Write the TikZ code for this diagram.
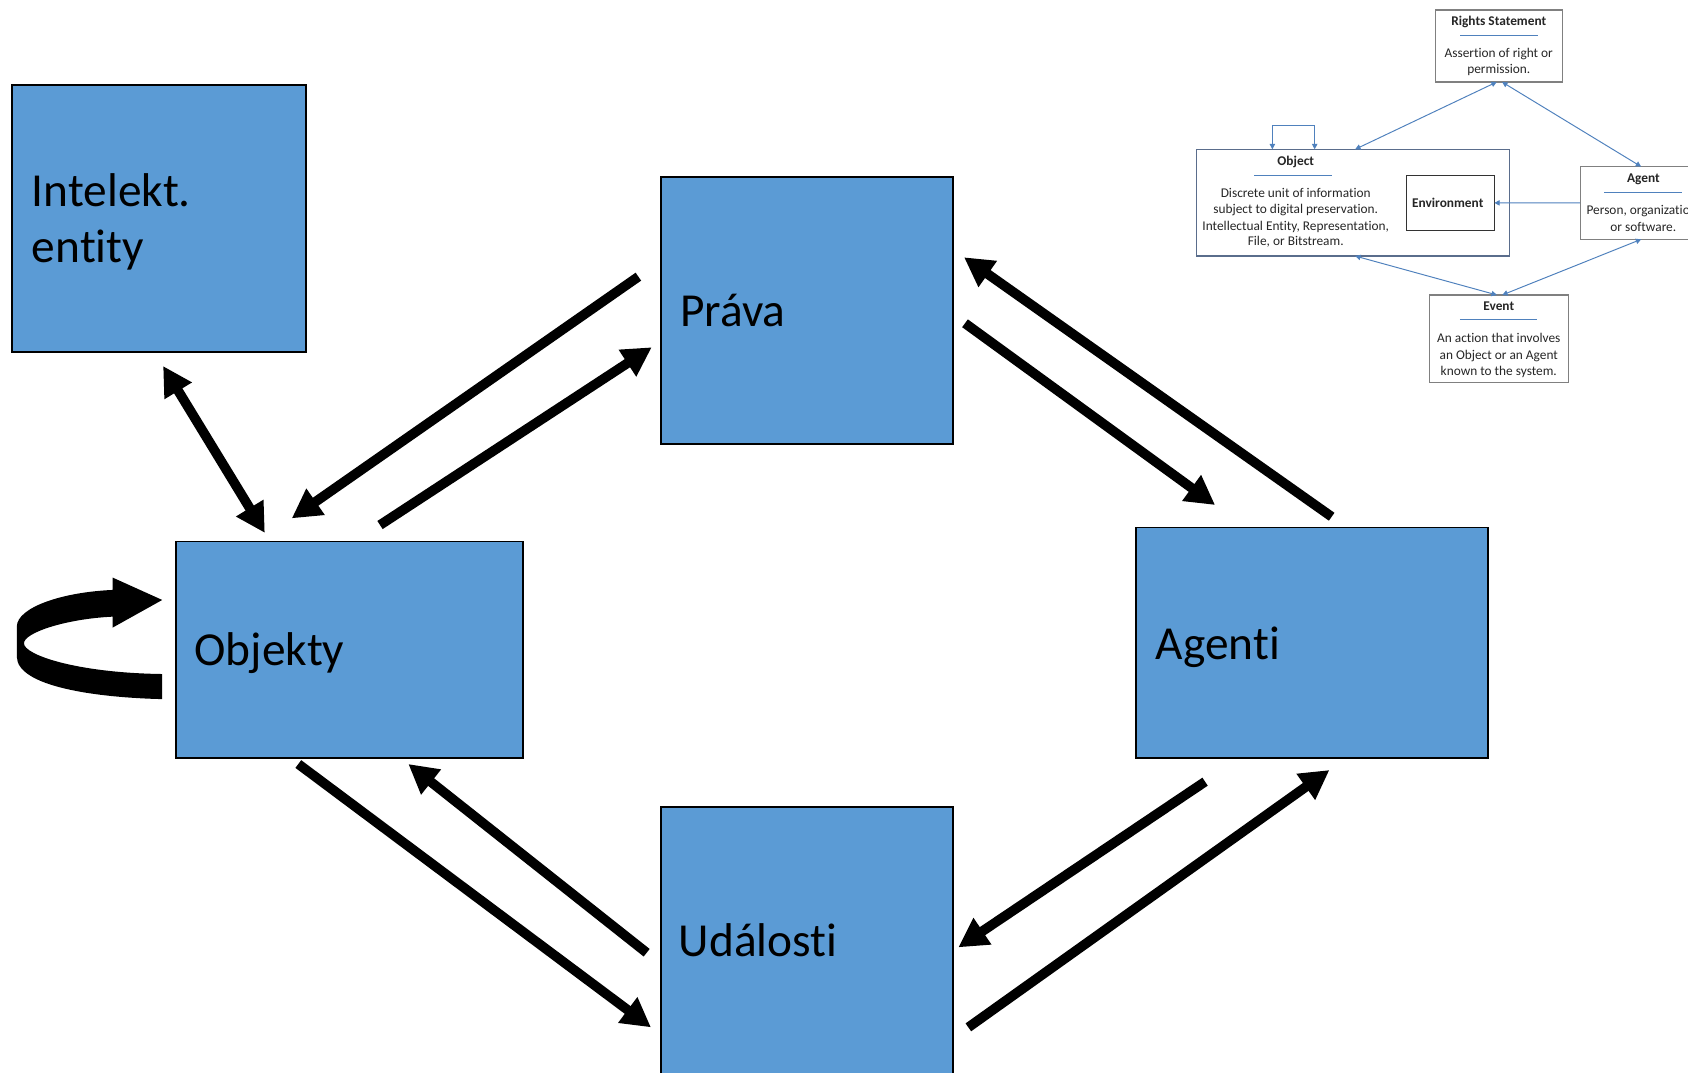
\documentclass[tikz,border=0pt]{standalone}
\usepackage{fontspec}
\setmainfont{Carlito}[Ligatures={NoCommon,NoContextual}]
\usetikzlibrary{arrows.meta}
\definecolor{boxblue}{HTML}{5B9BD5}
\definecolor{premisblue}{HTML}{4F81BD}
\definecolor{premisgray}{HTML}{808080}
\definecolor{objborder}{HTML}{5A6D8C}
\definecolor{premistext}{HTML}{262626}
\begin{document}
\begin{tikzpicture}[x=1pt,y=-1pt,
  bigbox/.style={draw=black, line width=1.8pt, fill=boxblue, inner sep=0pt, outer sep=0pt, anchor=north west},
  biglabel/.style={anchor=base west, inner sep=0pt, font=\fontsize{44pt}{52pt}\selectfont},
  fatarrow/.style={line width=9pt, -{Triangle[length=27pt,width=28pt]}},
  fatboth/.style={line width=9pt, {Triangle[length=27pt,width=28pt]}-{Triangle[length=27pt,width=28pt]}},
  pbox/.style={draw=premisgray, line width=1pt, fill=white, inner sep=0pt, outer sep=0pt, anchor=north west},
  ptitle/.style={anchor=base, inner sep=0pt, text=premistext, font=\fontsize{12.4pt}{15pt}\selectfont\bfseries},
  ptext/.style={anchor=base, inner sep=0pt, text=premistext, font=\fontsize{12.4pt}{15pt}\selectfont},
  pline/.style={draw=premisblue, line width=0.8pt},
  parrow/.style={draw=premisblue, line width=0.9pt, {Triangle[length=5pt,width=5pt]}-{Triangle[length=5pt,width=5pt]}},
  parrowone/.style={draw=premisblue, line width=0.9pt, -{Triangle[length=5pt,width=5pt]}}
]
\useasboundingbox (0,0) rectangle (1568,996);
\fill[white] (0,0) rectangle (1568,996);

% ---------- main boxes ----------
\node[bigbox, minimum width=272.5pt, minimum height=247.7pt] (ie) at (11.5,79) {};
\node[bigbox, minimum width=271.9pt, minimum height=247.7pt] (prava) at (613.7,164.7) {};
\node[bigbox, minimum width=322.7pt, minimum height=201pt] (obj) at (163.5,503) {};
\node[bigbox, minimum width=327pt, minimum height=214.4pt] (agenti) at (1055,490) {};
\node[bigbox, minimum width=271.9pt, minimum height=252pt] (udal) at (613.7,749.3) {};

\node[biglabel] (ieA) at (29.5,192) {Intelekt.};
\node[biglabel] (ieB) at (29.5,244) {entity};
\node[biglabel] (pravaL) at (631.5,303.5) {Práva};
\node[biglabel] (objL) at (180.5,618.4) {Objekty};
\node[biglabel] (agentiL) at (1073.5,612.5) {Agenti};
\node[biglabel] (udalL) at (630.5,888.7) {Události};

% ---------- arrow end points ----------
\coordinate (ieEnd) at (151.5,340);
\coordinate (objTop) at (246,495);
\coordinate (p2oS) at (593,257);
\coordinate (p2oE) at (271,481.5);
\coordinate (o2pS) at (353,487.7);
\coordinate (o2pE) at (605.4,322.6);
\coordinate (a2pS) at (1237,480);
\coordinate (a2pE) at (895.5,239);
\coordinate (p2aS) at (896.4,300.3);
\coordinate (p2aE) at (1128.7,469.1);
\coordinate (o2uS) at (277.1,709.7);
\coordinate (o2uE) at (604.7,954.3);
\coordinate (u2oS) at (600.7,885);
\coordinate (u2oE) at (379.3,709.7);
\coordinate (a2uS) at (1119.4,726.1);
\coordinate (a2uE) at (890.2,880);
\coordinate (u2aS) at (899.5,954.3);
\coordinate (u2aE) at (1234.9,715.3);

\draw[fatboth] (ieEnd) -- (objTop);
\draw[fatarrow] (p2oS) -- (p2oE);
\draw[fatarrow] (o2pS) -- (o2pE);
\draw[fatarrow] (a2pS) -- (a2pE);
\draw[fatarrow] (p2aS) -- (p2aE);
\draw[fatarrow] (o2uS) -- (o2uE);
\draw[fatarrow] (u2oS) -- (u2oE);
\draw[fatarrow] (a2uS) -- (a2uE);
\draw[fatarrow] (u2aS) -- (u2aE);

% ---------- curved self arrow on Objekty ----------
\fill[black] (150.7,649.4) .. controls (90,648) and (16,638) .. (15.6,610)
  -- (15.6,582) .. controls (16,564) and (58,550) .. (104.6,548)
  -- (104.6,536.5) -- (150.7,557.3) -- (104.6,583) -- (104.6,572.8)
  .. controls (60,575) and (22,588) .. (22.3,597.6)
  .. controls (22,608) and (70,625) .. (150.7,626.1) -- cycle;

% ---------- PREMIS inset ----------
\node[pbox, minimum width=118pt, minimum height=66.9pt] (rights) at (1333.3,9.3) {};
\node[pbox, draw=objborder, line width=1.3pt, minimum width=290.4pt, minimum height=99.1pt] (object) at (1111.6,138.7) {};
\node[pbox, draw=black!80, minimum width=81.7pt, minimum height=50.5pt] (env) at (1306.4,163.2) {};
\node[pbox, minimum width=117.6pt, minimum height=67.5pt] (agent) at (1467.7,154.8) {};
\node[pbox, minimum width=129.5pt, minimum height=81.1pt] (event) at (1327.7,274) {};

\node[ptitle] (rightsT) at (1392.2,23.5) {Rights Statement};
\draw[pline] (1356.2,32.8) -- (1428.4,32.8);
\node[ptext] (rights1) at (1392.2,53.5) {Assertion of right or};
\node[ptext] (rights2) at (1392.2,68.4) {permission.};

\node[ptitle] (objectT) at (1203.6,153.6) {Object};
\draw[pline] (1164.9,162.6) -- (1237.4,162.6);
\node[ptext] (object1) at (1203.6,183.5) {Discrete unit of information};
\node[ptext] (object2) at (1203.6,198.5) {subject to digital preservation.};
\node[ptext] (object3) at (1203.6,213.7) {Intellectual Entity, Representation,};
\node[ptext] (object4) at (1203.6,228.5) {File, or Bitstream.};

\node[ptitle] (envT) at (1344.8,192.3) {Environment};

\node[ptitle] (agentT) at (1526.5,169.7) {Agent};
\draw[pline] (1490.3,178.7) -- (1562.8,178.7);
\node[ptext] (agent1) at (1526.5,199.7) {Person, organization,};
\node[ptext] (agent2) at (1526.5,214.6) {or software.};

\node[ptitle] (eventT) at (1392.2,288.3) {Event};
\draw[pline] (1356,296.7) -- (1428,296.7);
\node[ptext] (event1) at (1392.2,318.6) {An action that involves};
\node[ptext] (event2) at (1392.2,333.8) {an Object or an Agent};
\node[ptext] (event3) at (1392.2,348.6) {known to the system.};

% inset connectors
\draw[parrow] ([xshift=-2pt]rights.south) -- ([xshift=2pt]object.north);
\draw[parrow] ([xshift=3pt]rights.south) -- ([xshift=-2pt]agent.north);
\draw[parrowone] (agent.west) -- (env.east);
\draw[parrow] ([xshift=2pt]object.south) -- ([xshift=-2pt]event.north);
\draw[parrow] ([xshift=-2pt]agent.south) -- ([xshift=3pt]event.north);
\coordinate (loopA) at (1181.9,116.1);
\coordinate (loopB) at (1221.2,116.1);
\draw[parrow] (object.north west -| loopA) -- (loopA) -- (loopB) -- (object.north west -| loopB);

\end{tikzpicture}
\end{document}
